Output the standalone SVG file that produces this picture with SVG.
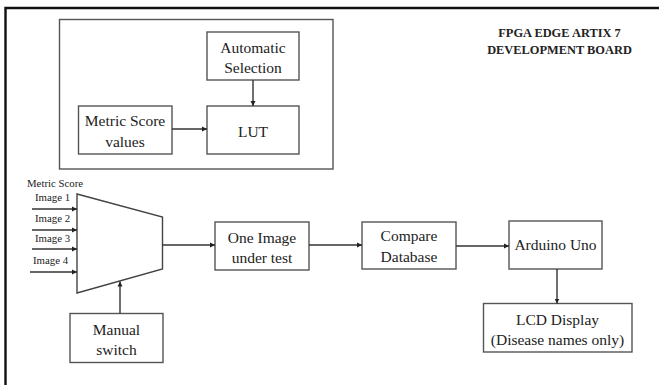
<svg xmlns="http://www.w3.org/2000/svg" width="659" height="385" viewBox="0 0 659 385">
  <style>
    .box { fill: #fff; stroke: #555; stroke-width: 1.4; }
    .lbl { font-family: "Liberation Serif", "Times New Roman", serif; font-size: 15.5px; fill: #222; text-anchor: middle; }
    .sm { font-family: "Liberation Serif", "Times New Roman", serif; font-size: 10.8px; fill: #222; }
    .title { font-family: "Liberation Serif", "Times New Roman", serif; font-size: 12.4px; font-weight: bold; fill: #222; text-anchor: middle; }
    .wire { fill: none; stroke: #333; stroke-width: 1.4; marker-end: url(#ah); }
  </style>
  <defs>
    <marker id="ah" markerUnits="userSpaceOnUse" markerWidth="6" markerHeight="6" refX="5" refY="3" orient="auto">
      <path d="M0,0.5 L5,3 L0,5.5 Z" fill="#222"/>
    </marker>
  </defs>
  <rect width="659" height="385" fill="#fff"/>

  <!-- board outline (top and left edges) -->
  <path d="M5.5,385 V8 H659" fill="none" stroke="#111" stroke-width="2.4"/>

  <!-- title -->
  <text class="title" x="559.5" y="37">FPGA EDGE ARTIX 7</text>
  <text class="title" x="559.5" y="54">DEVELOPMENT BOARD</text>

  <!-- LUT selection block -->
  <g id="lut-block">
    <rect class="box" x="59.5" y="19.5" width="273.5" height="149.5"/>
  </g>
  <g id="auto-select">
    <rect class="box" x="207" y="32" width="92" height="48"/>
    <text class="lbl" x="253" y="53">Automatic</text>
    <text class="lbl" x="253" y="73">Selection</text>
  </g>
  <g id="lut">
    <rect class="box" x="207" y="106" width="92" height="48"/>
    <text class="lbl" x="253" y="137">LUT</text>
  </g>
  <g id="metric-values">
    <rect class="box" x="78.5" y="106" width="93.5" height="48"/>
    <text class="lbl" x="125" y="126">Metric Score</text>
    <text class="lbl" x="125" y="147">values</text>
  </g>

  <!-- multiplexer -->
  <g id="mux">
    <polygon points="77,194 162.5,217 162.5,269 77,293" fill="#fff" stroke="#444" stroke-width="1.4"/>
  </g>
  <g id="inputs">
    <text class="sm" x="27" y="187">Metric Score</text>
    <text class="sm" x="35" y="201">Image 1</text>
    <text class="sm" x="35" y="222">Image 2</text>
    <text class="sm" x="35" y="242">Image 3</text>
    <text class="sm" x="33" y="264">Image 4</text>
  </g>
  <g id="manual-switch">
    <rect class="box" x="70" y="313.5" width="93" height="49"/>
    <text class="lbl" x="116.5" y="335">Manual</text>
    <text class="lbl" x="116.5" y="355">switch</text>
  </g>
  <g id="one-image">
    <rect class="box" x="215" y="222" width="94" height="48"/>
    <text class="lbl" x="262" y="243">One Image</text>
    <text class="lbl" x="262" y="263">under test</text>
  </g>
  <g id="compare">
    <rect class="box" x="362" y="222" width="94" height="47"/>
    <text class="lbl" x="409" y="241">Compare</text>
    <text class="lbl" x="409" y="262">Database</text>
  </g>
  <g id="arduino">
    <rect class="box" x="509" y="221" width="93" height="48"/>
    <text class="lbl" x="555.5" y="250">Arduino Uno</text>
  </g>
  <g id="lcd">
    <rect class="box" x="483.5" y="303.5" width="148.5" height="48.5"/>
    <text class="lbl" x="557.5" y="325">LCD Display</text>
    <text class="lbl" x="557.5" y="345">(Disease names only)</text>
  </g>

  <!-- connectors -->
  <g id="connectors">
    <line class="wire" x1="253" y1="80" x2="253" y2="106"/>
    <line class="wire" x1="172" y1="129" x2="207" y2="129"/>
    <line class="wire" x1="32" y1="209" x2="77" y2="209"/>
    <line class="wire" x1="32" y1="230" x2="77" y2="230"/>
    <line class="wire" x1="32" y1="249" x2="77" y2="249"/>
    <line class="wire" x1="30" y1="272" x2="77" y2="272"/>
    <line class="wire" x1="120" y1="313.5" x2="120" y2="281.5"/>
    <line class="wire" x1="162.5" y1="245" x2="215" y2="245"/>
    <line class="wire" x1="309" y1="245" x2="362" y2="245"/>
    <line class="wire" x1="456" y1="246" x2="509" y2="246"/>
    <line class="wire" x1="557" y1="269" x2="557" y2="303.5"/>
  </g>
</svg>
